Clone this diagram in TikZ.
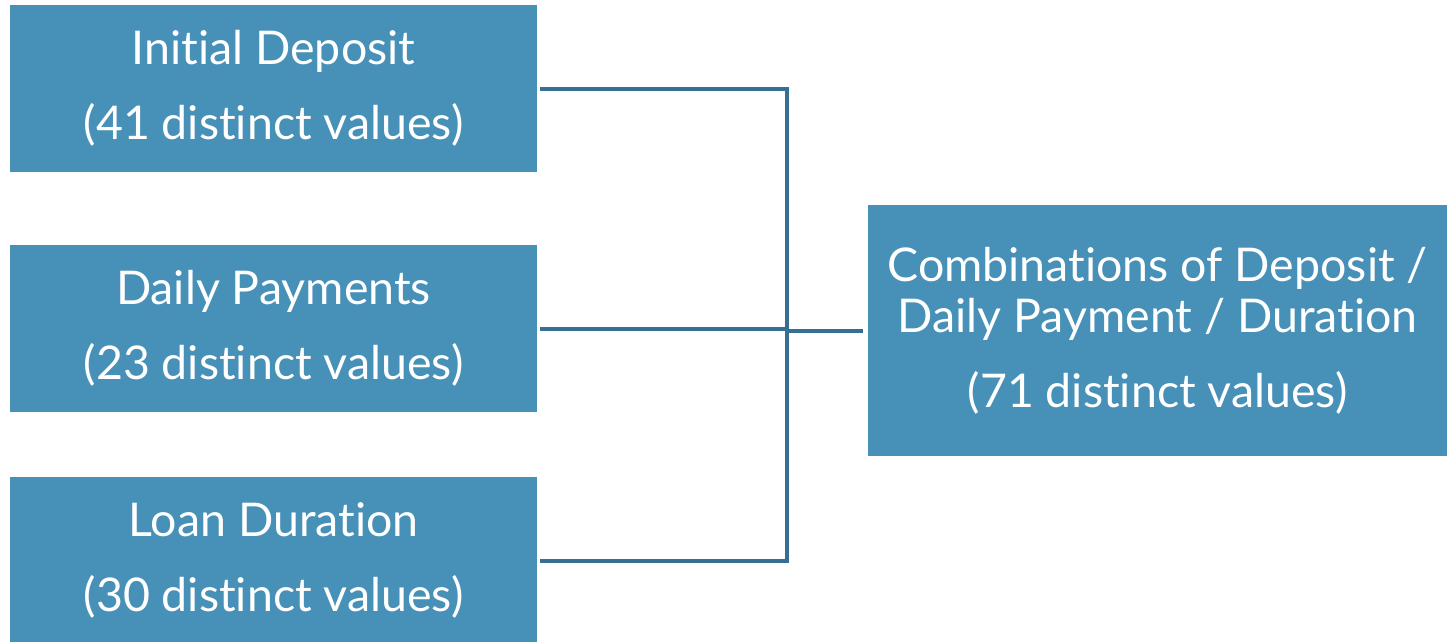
\documentclass[tikz,border=0pt]{standalone}
\usepackage{fontspec}
\setmainfont{Lato}[Ligatures=NoCommon]
\usetikzlibrary{positioning}
\definecolor{boxblue}{RGB}{71,144,184}
\definecolor{lineblue}{RGB}{53,111,146}
\tikzset{
  valbox/.style={fill=boxblue, text=white, align=center, inner sep=0pt,
    minimum width=527pt, minimum height=167pt, outer sep=3pt,
    font=\fontsize{46.5}{51}\selectfont},
  combbox/.style={valbox, minimum width=579pt, minimum height=251pt, outer sep=5pt},
  conn/.style={draw=lineblue, line width=4pt}
}

\begin{document}
\begin{tikzpicture}[x=1pt, y=-1pt]
  %%%%% boxes %%%%%
  \useasboundingbox (0,0) rectangle (1447,641);

  \node[valbox] (dep) at (273.5, 88.5) {Initial Deposit\\[24pt](41 distinct values)};
  \node[valbox] (pay) at (273.5, 328.5) {Daily Payments\\[24pt](23 distinct values)};
  \node[valbox] (dur) at (273.5, 560.5) {Loan Duration\\[24pt](30 distinct values)};

  \node[combbox] (comb) at (1157.5, 330.5) {Combinations of Deposit /\\Daily Payment / Duration\\[24pt](71 distinct values)};

  %%%%% connectors %%%%%
  \coordinate (hub) at (787, 330.5);

  \draw[conn] (dep.east) -| (hub);
  \draw[conn] (dur.east) -| (hub);
  \draw[conn] (pay.east) -- (pay.east -| hub);
  \draw[conn] (hub) -- (comb.west);
\end{tikzpicture}
\end{document}
